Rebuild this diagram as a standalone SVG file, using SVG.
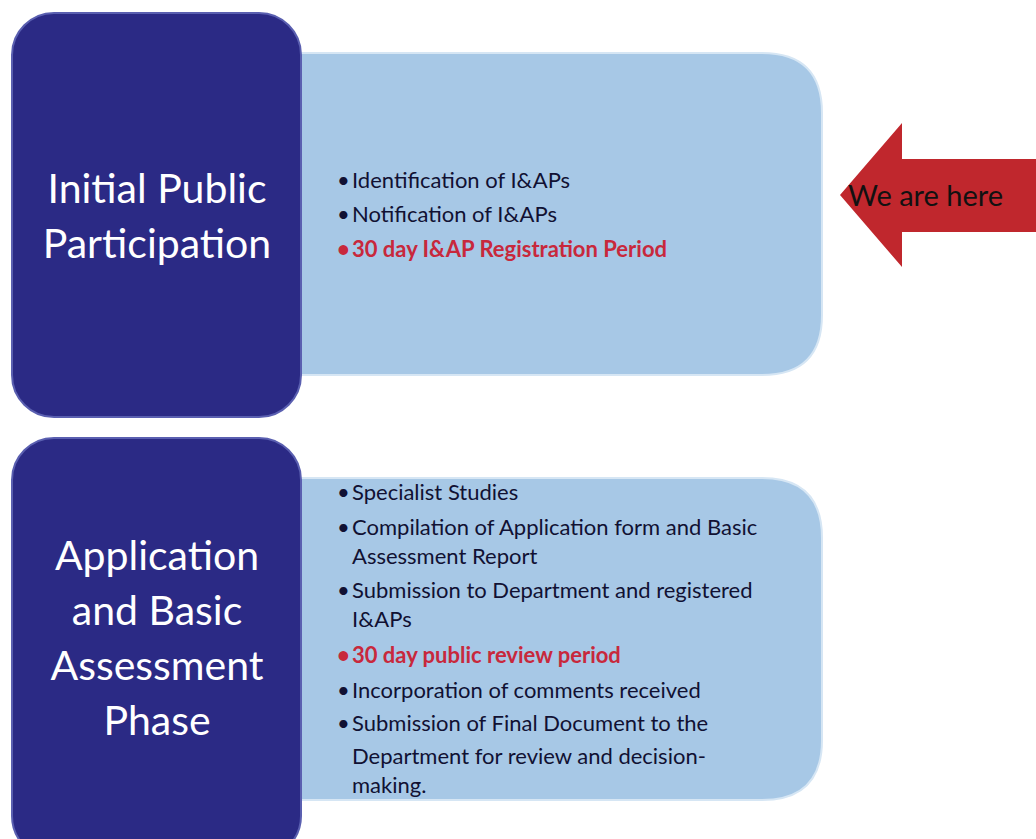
<svg xmlns="http://www.w3.org/2000/svg" width="1036" height="839" viewBox="0 0 1036 839">
<style>
.dark{fill:#2b2a85;stroke:#5a5fb0;stroke-width:2}
.light{fill:#a7c8e6;stroke:#d6e6f4;stroke-width:2}
.title{font-family:Lato,"Open Sans",sans-serif;font-size:41px;fill:#ffffff;text-anchor:middle}
.item{font-family:Lato,"Open Sans",sans-serif;font-size:22px;fill:#111133}
.red{fill:#c8283c;font-weight:bold}
.arrowlbl{font-family:Lato,"Open Sans",sans-serif;font-size:29px;fill:#111111}
</style>
<rect width="1036" height="839" fill="#ffffff"/>
<g id="phase1-details">
<path class="light" d="M290 53 H762 Q822 53 822 113 V315 Q822 375 762 375 H290 Z"/>
<text class="item" x="337" y="188">•</text><text class="item" x="352" y="188">Identification of I&amp;APs</text>
<text class="item" x="337" y="222">•</text><text class="item" x="352" y="222">Notification of I&amp;APs</text>
<text class="item red" x="337" y="257">•</text><text class="item red" x="352" y="257">30 day I&amp;AP Registration Period</text>
</g>
<g id="phase1">
<rect class="dark" x="12" y="13" width="289" height="404" rx="42"/>
<text class="title" x="157" y="203">Initial Public</text>
<text class="title" x="157" y="258">Participation</text>
</g>
<g id="phase2-details">
<path class="light" d="M290 478 H762 Q822 478 822 538 V740 Q822 800 762 800 H290 Z"/>
<text class="item" x="337" y="500">•</text><text class="item" x="352" y="500">Specialist Studies</text>
<text class="item" x="337" y="535">•</text><text class="item" x="352" y="535">Compilation of Application form and Basic</text>
<text class="item" x="352" y="564">Assessment Report</text>
<text class="item" x="337" y="598">•</text><text class="item" x="352" y="598">Submission to Department and registered</text>
<text class="item" x="352" y="627">I&amp;APs</text>
<text class="item red" x="337" y="663">•</text><text class="item red" x="352" y="663">30 day public review period</text>
<text class="item" x="337" y="698">•</text><text class="item" x="352" y="698">Incorporation of comments received</text>
<text class="item" x="337" y="731">•</text><text class="item" x="352" y="731">Submission of Final Document to the</text>
<text class="item" x="352" y="764">Department for review and decision-</text>
<text class="item" x="352" y="793">making.</text>
</g>
<g id="phase2">
<rect class="dark" x="12" y="438" width="289" height="420" rx="42"/>
<text class="title" x="157" y="570">Application</text>
<text class="title" x="157" y="625">and Basic</text>
<text class="title" x="157" y="680">Assessment</text>
<text class="title" x="157" y="735">Phase</text>
</g>
<g id="we-are-here">
<polygon points="840,195 902,123 902,159 1036,159 1036,232 902,232 902,267" fill="#c0272d"/>
<text class="arrowlbl" x="848" y="206">We are here</text>
</g>
<g id="connectors"></g>
</svg>
